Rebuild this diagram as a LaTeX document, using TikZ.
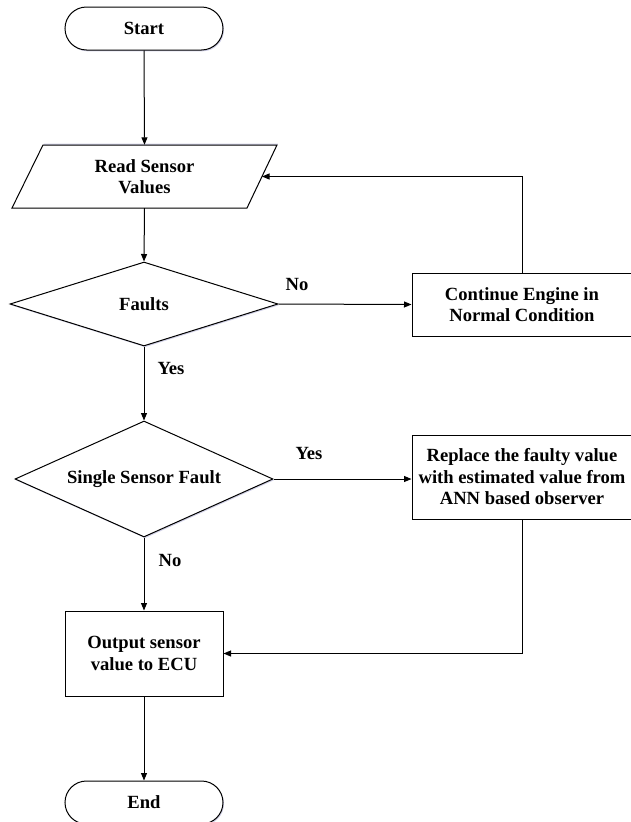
\documentclass[tikz,border=0pt]{standalone}
\usepackage{fontspec}
\setmainfont{Liberation Serif}
\usetikzlibrary{arrows.meta,shapes.geometric,shapes.misc,shadows,calc}
\begin{document}
\begin{tikzpicture}[x=1pt,y=-1pt,
  every node/.style={font=\bfseries\fontsize{18.6}{21.5}\selectfont, align=center, inner sep=0pt},
  shd/.style={drop shadow={shadow xshift=1pt,shadow yshift=-1.3pt,fill=blue!30!gray!35,opacity=0.8}},
  shp/.style={draw, line width=1pt, fill=white, shd},
  term/.style={shp, rounded rectangle, minimum width=158pt, minimum height=43pt},
  procbox/.style={shp, rectangle},
  decis/.style={shp, diamond},
  conn/.style={line width=1pt, -{Triangle[length=7.5pt,width=6pt]}},
  lbl/.style={}
]
\useasboundingbox (0,0) rectangle (630,822);

% terminals
\node[term] (start) at (144,28.5) {Start};
\node[term] (end) at (144,802.5) {End};

% input parallelogram
\coordinate (pTL) at (43,145);
\coordinate (pTR) at (277,145);
\coordinate (pBR) at (247,208);
\coordinate (pBL) at (12,208);
\fill[blue!30!gray!35,opacity=0.8] ([xshift=1pt,yshift=1.3pt]pTL) -- ([xshift=1pt,yshift=1.3pt]pTR) -- ([xshift=1pt,yshift=1.3pt]pBR) -- ([xshift=1pt,yshift=1.3pt]pBL) -- cycle;
\filldraw[line width=1pt, fill=white] (pTL) -- (pTR) -- (pBR) -- (pBL) -- cycle;
\node[minimum width=265pt, minimum height=63pt] (read) at (144.5,176.5) {Read Sensor\\Values};
\coordinate (readR) at ($(pTR)!0.5!(pBR)$);

% decisions
\node[decis, aspect=3.19, minimum width=268pt, minimum height=84pt] (faults) at (144,304) {Faults};
\node[decis, aspect=2.22, minimum width=258pt, minimum height=116pt] (single) at (144,479) {Single Sensor Fault};

% process boxes
\node[procbox, minimum width=220pt, minimum height=63pt] (cont) at (522,304.5) {Continue Engine in\\Normal Condition};
\node[procbox, minimum width=220pt, minimum height=84pt] (repl) at (522,477) {Replace the faulty value\\with estimated value from\\ANN based observer};
\node[procbox, minimum width=158pt, minimum height=85pt] (out) at (144,653.5) {Output sensor\\value to ECU};

% connectors
\draw[conn] (start.south) -- (read.north);
\draw[conn] (read.south) -- (faults.north);
\draw[conn] (faults.east) -- (cont.west);
\draw[conn] (cont.north) |- (readR);
\draw[conn] (faults.south) -- (single.north);
\draw[conn] (single.east) -- (single.east -| repl.west);
\draw[conn] (single.south) -- (out.north);
\draw[conn] (repl.south) |- (out.east);
\draw[conn] (out.south) -- (end.north);

% labels
\node[lbl] (lno1) at (297,284) {No};
\node[lbl] (lyes1) at (171,368) {Yes};
\node[lbl] (lyes2) at (309,453) {Yes};
\node[lbl] (lno2) at (170,560) {No};
\end{tikzpicture}
\end{document}
